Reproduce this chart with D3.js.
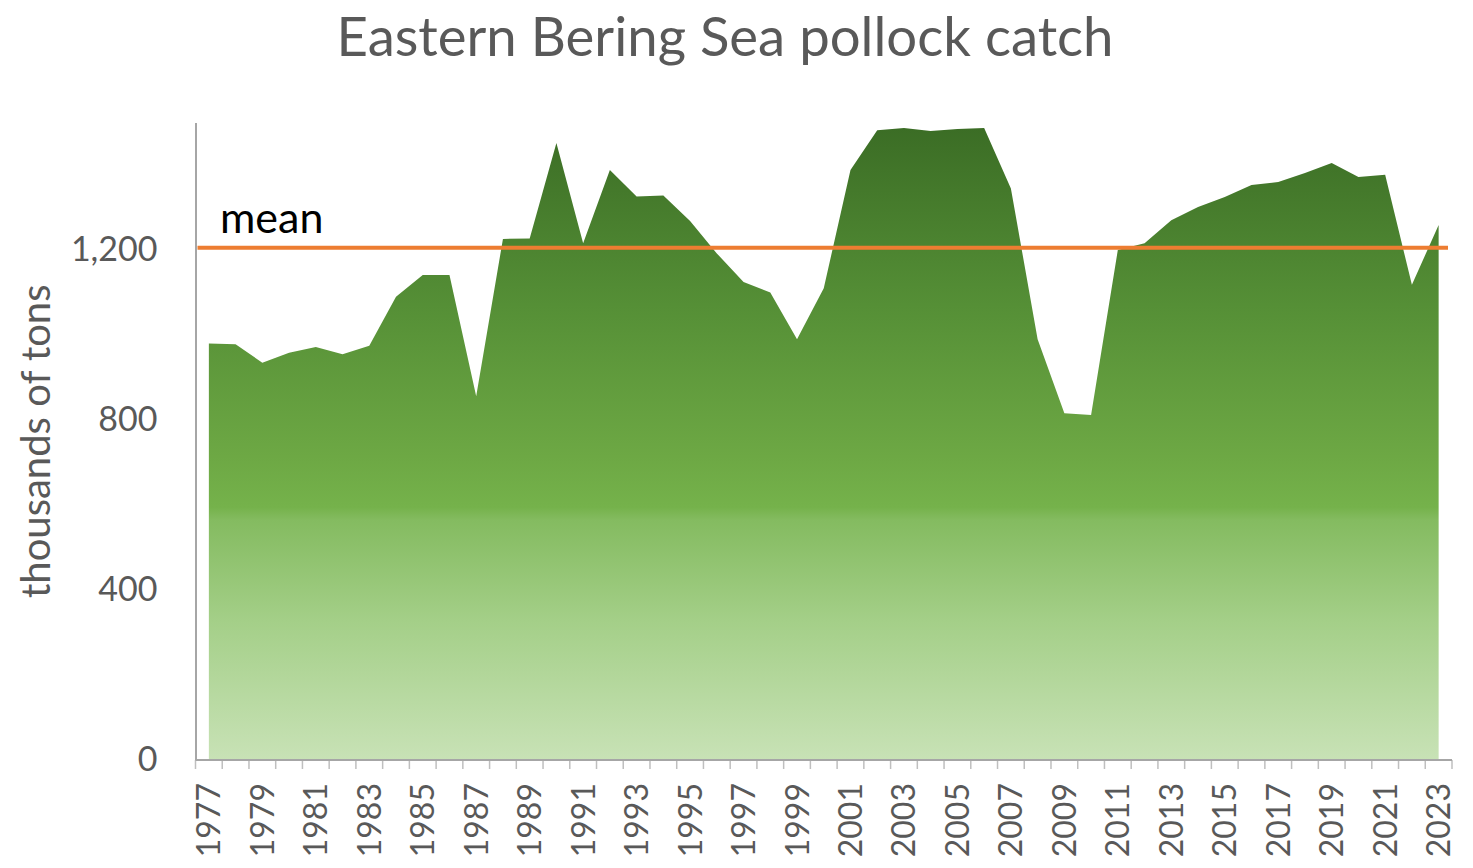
<!DOCTYPE html>
<html>
<head>
<meta charset="utf-8">
<script src="https://cdn.jsdelivr.net/npm/d3@7"></script>
<style>
  body { margin: 0; background: #fff; }
  svg { display: block; font-family: Lato, "Open Sans", sans-serif; }
  .tick text { fill: #595959; }
</style>
</head>
<body>
<svg id="chart" width="1473" height="868"></svg>
<script>
'use strict';

// catch, thousands of tons
const years = d3.range(1977, 2024);
const catchValues = [
  980, 978, 935, 958, 972, 955, 975, 1090, 1141, 1141,
  856, 1226, 1227, 1452, 1216, 1388, 1326, 1328, 1268, 1192,
  1125, 1100, 990, 1110, 1388, 1482, 1487, 1480, 1485, 1487,
  1345, 990, 816, 812, 1200, 1216, 1270, 1301, 1325, 1353,
  1360, 1381, 1405, 1372, 1377, 1118, 1259
];
const yTicks = [0, 400, 800, 1200];
const labelYears = years.filter((d, i) => i % 2 === 0);

const data = years.map((yr, i) => ({ year: yr, value: catchValues[i] }));
const meanValue = d3.mean(catchValues);

const svg = d3.select("#chart");
const plotLeft = 195.5, plotRight = 1452, plotBottom = 760, plotTop = 122.5;

const x = d3.scaleBand().domain(years).range([plotLeft, plotRight]);
const y = d3.scaleLinear().domain([0, 1500]).range([plotBottom, plotTop]);
const cx = d => x(d) + x.bandwidth() / 2;

// gradient fill, dark at the top, pale at the base
const grad = svg.append("defs").append("linearGradient")
    .attr("id", "fillGrad")
    .attr("gradientUnits", "userSpaceOnUse")
    .attr("x1", 0).attr("x2", 0)
    .attr("y1", y(d3.max(catchValues))).attr("y2", y(0));
[
  [0, "#3b6d25"], [0.28, "#558f36"], [0.52, "#6da844"], [0.6, "#75b24b"],
  [0.62, "#84bb60"], [0.78, "#a4cf88"], [1, "#c8e2b6"]
].forEach(([o, c]) => grad.append("stop").attr("offset", o).attr("stop-color", c));

const area = d3.area()
    .x(d => cx(d.year))
    .y0(y(0))
    .y1(d => y(d.value));

svg.append("path")
    .datum(data)
    .attr("d", area)
    .attr("fill", "url(#fillGrad)");

// y axis
const yAxis = svg.append("g")
    .attr("transform", `translate(${plotLeft},0)`)
    .call(d3.axisLeft(y).tickValues(yTicks).tickSize(0).tickPadding(38)
        .tickFormat(d3.format(",")));
yAxis.select(".domain").attr("stroke", "#a6a6a6").attr("stroke-width", 2);
yAxis.selectAll("text").attr("font-size", 34).attr("font-family", "Lato");

// x axis: labels every other year, ticks on the band edges
const xAxis = svg.append("g")
    .attr("transform", `translate(0,${plotBottom})`)
    .call(d3.axisBottom(x).tickValues(labelYears).tickSize(0).tickPadding(0));
xAxis.select(".domain").remove();
xAxis.selectAll("text")
    .attr("font-size", 32)
    .attr("font-family", "Lato")
    .attr("transform", "rotate(-90)")
    .attr("text-anchor", "end")
    .attr("x", -23)
    .attr("y", 0)
    .attr("dy", "0.36em");

xAxis.selectAll("line.edge")
    .data(years.map(d => x(d)).concat([plotRight]))
    .join("line")
    .attr("class", "edge")
    .attr("x1", d => d).attr("x2", d => d)
    .attr("y1", 0).attr("y2", 9)
    .attr("stroke", "#bfbfbf")
    .attr("stroke-width", 1.5);

svg.append("line")
    .attr("x1", plotLeft).attr("x2", plotRight)
    .attr("y1", plotBottom).attr("y2", plotBottom)
    .attr("stroke", "#a6a6a6")
    .attr("stroke-width", 2);

// mean line
svg.append("line")
    .attr("x1", plotLeft + 2).attr("x2", plotRight - 4)
    .attr("y1", y(meanValue)).attr("y2", y(meanValue))
    .attr("stroke", "#ed7d31")
    .attr("stroke-width", 4);

svg.append("text")
    .attr("x", 220)
    .attr("y", y(meanValue) - 15)
    .attr("font-size", 43)
    .attr("fill", "#000")
    .text("mean");

// titles
svg.append("text")
    .attr("x", 725)
    .attr("y", 56)
    .attr("text-anchor", "middle")
    .attr("font-size", 54.5)
    .attr("fill", "#595959")
    .text("Eastern Bering Sea pollock catch");

svg.append("text")
    .attr("transform", `translate(50,${(plotTop + plotBottom) / 2}) rotate(-90)`)
    .attr("text-anchor", "middle")
    .attr("font-size", 40)
    .attr("fill", "#595959")
    .text("thousands of tons");
</script>
</body>
</html>
